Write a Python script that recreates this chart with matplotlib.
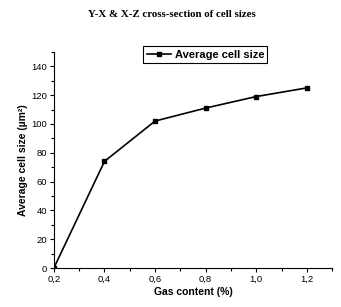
import matplotlib
matplotlib.use('Agg')
import matplotlib.pyplot as plt
from matplotlib.ticker import MultipleLocator, FuncFormatter

gas_content = [0.2, 0.4, 0.6, 0.8, 1.0, 1.2]
cell_size = [0, 74, 102, 111, 119, 125]

plt.rcParams['font.family'] = 'Liberation Sans'

fig = plt.figure(figsize=(3.41, 3.07), dpi=100)
ax = fig.add_axes([0.158, 0.127, 0.816, 0.704])

ax.plot(gas_content, cell_size, 'k-', marker='s', markersize=3.5, linewidth=1.2, label='Average cell size')

ax.set_xlim(0.2, 1.3)
ax.set_ylim(0, 150)
ax.xaxis.set_major_locator(MultipleLocator(0.2))
ax.xaxis.set_minor_locator(MultipleLocator(0.1))
ax.yaxis.set_major_locator(MultipleLocator(20))
ax.yaxis.set_minor_locator(MultipleLocator(10))
ax.xaxis.set_major_formatter(FuncFormatter(lambda v, p: ('%.1f' % v).replace('.', ',')))
ax.tick_params(which='both', direction='out', labelsize=6.8, width=0.8, pad=2)
ax.tick_params(which='major', length=3)
ax.tick_params(which='minor', length=2)
ax.set_xticks([0.2, 0.4, 0.6, 0.8, 1.0, 1.2])

for s in ['top', 'right']:
    ax.spines[s].set_visible(False)

ax.set_xlabel('Gas content (%)', fontsize=7.5, fontweight='bold', labelpad=2)
ax.set_ylabel('Average cell size (µm²)', fontsize=7.5, fontweight='bold', labelpad=2)

leg = ax.legend(loc='upper left', bbox_to_anchor=(0.322, 1.025), prop={'weight': 'bold', 'size': 8},
                fancybox=False, edgecolor='black', framealpha=1, handlelength=2.2,
                borderpad=0.3, handletextpad=0.3, borderaxespad=0)
leg.get_frame().set_linewidth(0.8)

fig.text(0.505, 0.952, 'Y-X & X-Z cross-section of cell sizes', ha='center', va='center',
         fontsize=7.8, fontweight='bold', family='Liberation Serif')

fig.savefig('out.png', dpi=100)
